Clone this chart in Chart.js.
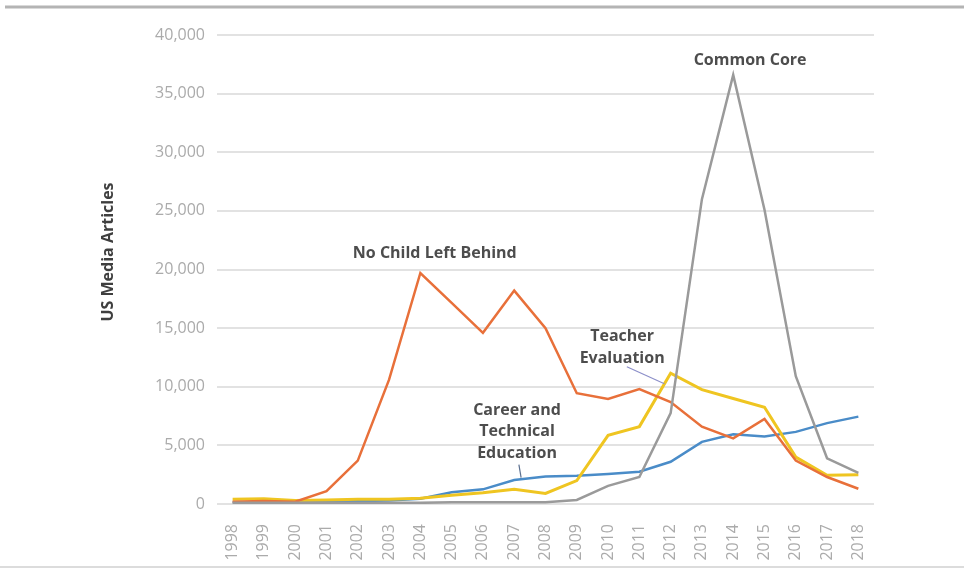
<!DOCTYPE html>
<html>
<head>
<meta charset="utf-8">
<script src="https://cdn.jsdelivr.net/npm/chart.js@4/dist/chart.umd.min.js"></script>
<style>
  body { margin: 0; background: #fff; }
  canvas { display: block; }
</style>
</head>
<body>
<canvas id="canvas" width="964" height="569"></canvas>
<script>
const years = ['1998', '1999', '2000', '2001', '2002', '2003', '2004', '2005', '2006', '2007', '2008',
  '2009', '2010', '2011', '2012', '2013', '2014', '2015', '2016', '2017', '2018']

const noChildLeftBehind = [200, 250, 200, 1100, 3700, 10600, 19700, 17150, 14600, 18200, 15000,
  9450, 8950, 9800, 8700, 6600, 5600, 7250, 3700, 2300, 1300]
const commonCore = [100, 100, 100, 100, 100, 100, 100, 150, 150, 150, 150,
  350, 1550, 2300, 7750, 26000, 36600, 25100, 10900, 3900, 2650]
const teacherEvaluation = [400, 450, 300, 350, 400, 400, 500, 750, 950, 1250, 900,
  2000, 5850, 6600, 11150, 9750, 9000, 8250, 4000, 2450, 2500]
const careerTechEd = [150, 150, 150, 200, 250, 300, 450, 1000, 1250, 2050, 2350,
  2400, 2550, 2750, 3600, 5300, 5950, 5750, 6150, 6900, 7450]

const yTicks = [0, 5000, 10000, 15000, 20000, 25000, 30000, 35000, 40000]

// text labels placed in data units (x = index into years, y = article count)
const notes = [
  { lines: ['Common Core'], x: 16.54, y: 37800 },
  { lines: ['No Child Left Behind'], x: 6.46, y: 21400 },
  { lines: ['Teacher', 'Evaluation'], x: 12.45, y: 14250 },
  { lines: ['Career and', 'Technical', 'Education'], x: 9.09, y: 8000 },
]
const leaders = [
  { from: [12.6, 11700], to: [13.8, 10250], color: '#8c8fc9' },
  { from: [9.15, 3350], to: [9.22, 2250], color: '#5d7191' },
]

const textPlugin = {
  id: 'textPlugin',
  beforeDraw(chart) {
    const ctx = chart.ctx
    ctx.save()
    // frame rules top and bottom
    ctx.strokeStyle = '#b4b4b4'
    ctx.lineWidth = 3
    ctx.beginPath()
    ctx.moveTo(5, 7)
    ctx.lineTo(964, 7)
    ctx.stroke()
    ctx.strokeStyle = '#d0d0d0'
    ctx.lineWidth = 1.5
    ctx.beginPath()
    ctx.moveTo(0, 567)
    ctx.lineTo(964, 567)
    ctx.stroke()
    ctx.restore()
  },
  afterDatasetsDraw(chart) {
    const ctx = chart.ctx
    const xs = chart.scales.x
    const ys = chart.scales.y
    ctx.save()

    leaders.forEach(function (l) {
      ctx.strokeStyle = l.color
      ctx.lineWidth = 1.2
      ctx.beginPath()
      ctx.moveTo(xs.getPixelForValue(l.from[0]), ys.getPixelForValue(l.from[1]))
      ctx.lineTo(xs.getPixelForValue(l.to[0]), ys.getPixelForValue(l.to[1]))
      ctx.stroke()
    })

    ctx.fillStyle = '#4d4d4d'
    ctx.font = 'bold 16px "Open Sans"'
    ctx.textAlign = 'center'
    ctx.textBaseline = 'middle'
    notes.forEach(function (n) {
      const px = xs.getPixelForValue(n.x)
      const py = ys.getPixelForValue(n.y)
      n.lines.forEach(function (t, i) {
        ctx.fillText(t, px, py + i * 21.5)
      })
    })

    // axis title
    ctx.translate(108, 252)
    ctx.rotate(-Math.PI / 2)
    ctx.fillStyle = '#3f3f3f'
    ctx.font = 'bold 16px "Open Sans"'
    ctx.fillText('US Media Articles', 0, 0)
    ctx.restore()
  }
}

const data = {
  labels: years,
  datasets: [
    {
      label: 'Common Core',
      data: commonCore,
      borderColor: '#9a9a9a',
      borderWidth: 2.5,
    },
    {
      label: 'No Child Left Behind',
      data: noChildLeftBehind,
      borderColor: '#e8703a',
      borderWidth: 2.5,
    },
    {
      label: 'Teacher Evaluation',
      data: teacherEvaluation,
      borderColor: '#efc521',
      borderWidth: 3,
    },
    {
      label: 'Career and Technical Education',
      data: careerTechEd,
      borderColor: '#4a8cc8',
      borderWidth: 2.5,
    },
  ],
}

const tickFont = { family: 'Open Sans', size: 16, weight: '400' }

const config = {
  type: 'line',
  data: data,
  options: {
    responsive: false,
    animation: false,
    events: [],
    layout: { padding: { top: 35, right: 90, left: 0, bottom: 0 } },
    elements: { point: { radius: 0 }, line: { tension: 0 } },
    plugins: {
      legend: { display: false },
      tooltip: { enabled: false },
    },
    scales: {
      x: {
        offset: true,
        grid: { display: false },
        border: { display: false },
        ticks: {
          minRotation: 90,
          maxRotation: 90,
          autoSkip: false,
          padding: 12,
          color: '#ababab',
          font: tickFont,
        },
        afterFit: function (s) { s.height = 65 },
      },
      y: {
        min: 0,
        max: 40000,
        afterBuildTicks: function (s) { s.ticks = yTicks.map(v => ({ value: v })) },
        grid: { color: '#e2e2e2', lineWidth: 2, drawTicks: false },
        border: { display: false },
        ticks: {
          padding: 12,
          color: '#ababab',
          font: tickFont,
          callback: v => v.toLocaleString('en-US'),
        },
        afterFit: function (s) { s.width = 217 },
      },
    },
  },
  plugins: [textPlugin],
}

const canvas = document.getElementById('canvas')
const chart = new Chart(canvas, config)
</script>
</body>
</html>
